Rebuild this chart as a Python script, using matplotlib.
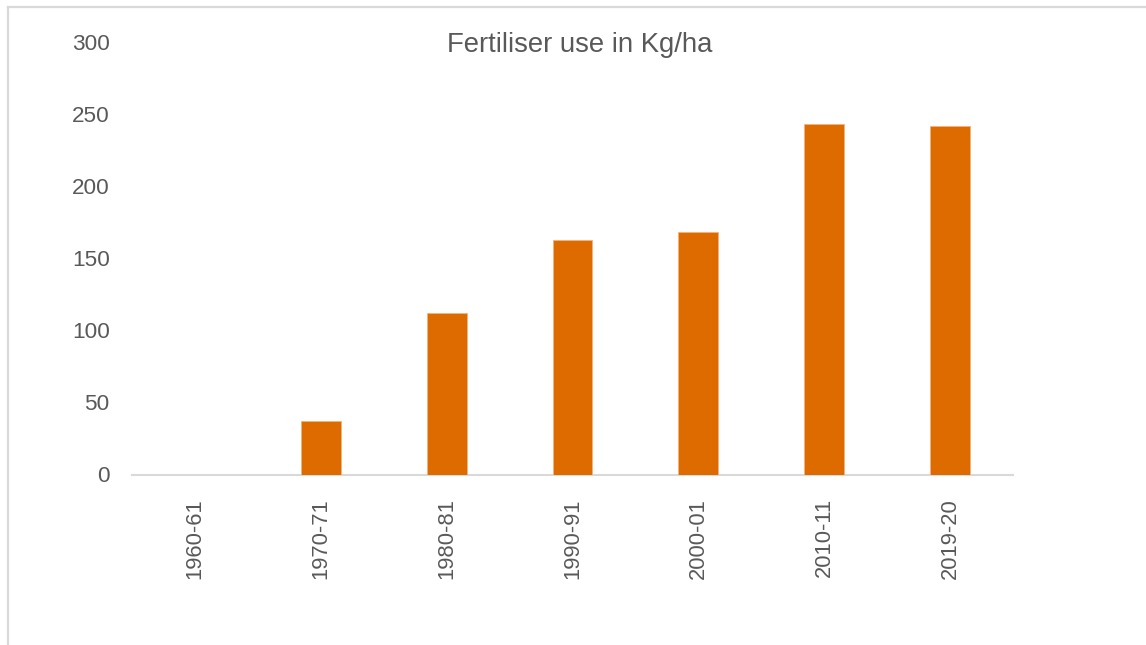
import matplotlib
matplotlib.use("Agg")
import numpy as np
import matplotlib.pyplot as plt
from matplotlib.lines import Line2D

years = ['1960-61', '1970-71', '1980-81', '1990-91', '2000-01', '2010-11', '2019-20']
kg_per_ha = [0, 37.4, 112.3, 162.8, 168.4, 243.4, 242.2]

plt.rcParams['font.family'] = ['Liberation Sans', 'DejaVu Sans']
grey = '#595959'

W, H = 1146, 645
fig = plt.figure(figsize=(W / 100, H / 100), dpi=100)
ax = fig.add_axes([132 / W, 1 - 474.5 / H, (1013 - 132) / W, (474.5 - 42.5) / H])

x = np.arange(len(years))
ax.bar(x, kg_per_ha, width=0.317, color='#dd6b00', edgecolor='#f4b27a', linewidth=0.6, zorder=3)

ax.set_xlim(-0.5, len(years) - 0.5)
ax.set_ylim(0, 300)
ax.set_yticks(np.arange(0, 301, 50))
ax.set_xticks(x)
ax.set_xticklabels(years, rotation=90)
# pads are in points (px * 0.72)
ax.tick_params(axis='y', length=0, pad=16, labelsize=16.2, labelcolor=grey)
ax.tick_params(axis='x', length=0, pad=17, labelsize=15.8, labelcolor=grey)

for s in ['top', 'right', 'left']:
    ax.spines[s].set_visible(False)
ax.spines['bottom'].set_color('#d9d9d9')
ax.spines['bottom'].set_linewidth(1.5)

fig.text(580 / W, 1 - 52.5 / H, 'Fertiliser use in Kg/ha', ha='center', va='baseline',
         fontsize=19.8, color=grey)

# chart frame (top and left edges visible)
fig.add_artist(Line2D([7.5 / W, 1], [1 - 6.5 / H, 1 - 6.5 / H], color='#d9d9d9', linewidth=1.6))
fig.add_artist(Line2D([7.5 / W, 7.5 / W], [0, 1 - 6.5 / H], color='#d9d9d9', linewidth=1.6))

fig.savefig('out.png', dpi=100, facecolor='white')
